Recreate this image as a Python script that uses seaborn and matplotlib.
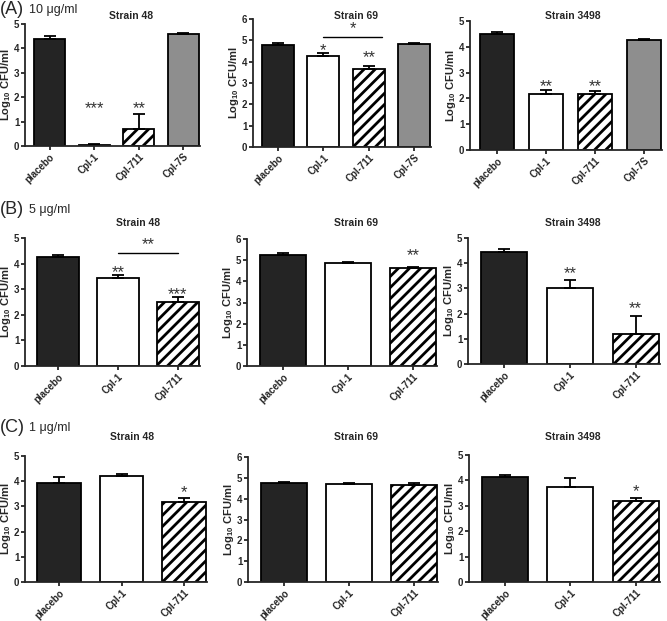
import numpy as np
import seaborn as sns
import matplotlib.pyplot as plt

# ---- data ----
groups4 = ["placebo", "Cpl-1", "Cpl-711", "Cpl-7S"]
groups3 = ["placebo", "Cpl-1", "Cpl-711"]

a48_mean = [4.40, 0.05, 0.70, 4.57]
a48_err = [0.10, 0.03, 0.63, 0.05]
a69_mean = [4.80, 4.28, 3.67, 4.82]
a69_err = [0.06, 0.13, 0.12, 0.05]
a3498_mean = [4.48, 2.18, 2.17, 4.25]
a3498_err = [0.10, 0.13, 0.13, 0.07]

b48_mean = [4.25, 3.45, 2.50]
b48_err = [0.10, 0.09, 0.20]
b69_mean = [5.25, 4.87, 4.62]
b69_err = [0.10, 0.06, 0.05]
b3498_mean = [4.43, 3.00, 1.20]
b3498_err = [0.12, 0.35, 0.70]

c48_mean = [3.93, 4.22, 3.16]
c48_err = [0.22, 0.08, 0.18]
c69_mean = [4.75, 4.72, 4.65]
c69_err = [0.05, 0.03, 0.10]
c3498_mean = [4.15, 3.75, 3.17]
c3498_err = [0.07, 0.35, 0.12]

row_labels = ["(A)", "(B)", "(C)"]
doses = ["10 μg/ml", "5 μg/ml", "1 μg/ml"]
strains = ["Strain 48", "Strain 69", "Strain 3498"]

# significance marks: (bar index, y, text)
stars = {
    "a48": [(1, 1.55, "***"), (2, 1.55, "**")],
    "a69": [(1, 4.5, "*"), (2, 4.2, "**")],
    "a3498": [(1, 2.45, "**"), (2, 2.45, "**")],
    "b48": [(1, 3.65, "**"), (2, 2.8, "***")],
    "b69": [(2, 5.2, "**")],
    "b3498": [(1, 3.6, "**"), (2, 2.2, "**")],
    "c48": [(2, 3.55, "*")],
    "c69": [],
    "c3498": [(2, 3.55, "*")],
}
# comparison brackets: (from bar, to bar, y, text)
brackets = {
    "a69": [(1, 2.3, 5.15, "*")],
    "b48": [(1, 2.0, 4.4, "**")],
}

panels = [
    ["a48", groups4, a48_mean, a48_err, 5],
    ["a69", groups4, a69_mean, a69_err, 6],
    ["a3498", groups4, a3498_mean, a3498_err, 5],
    ["b48", groups3, b48_mean, b48_err, 5],
    ["b69", groups3, b69_mean, b69_err, 6],
    ["b3498", groups3, b3498_mean, b3498_err, 5],
    ["c48", groups3, c48_mean, c48_err, 5],
    ["c69", groups3, c69_mean, c69_err, 6],
    ["c3498", groups3, c3498_mean, c3498_err, 5],
]

colors = {"placebo": "#242424", "Cpl-1": "white", "Cpl-711": "white", "Cpl-7S": "#8e8e8e"}

sns.set_style("ticks")
plt.rcParams["font.family"] = ["Liberation Sans", "DejaVu Sans"]
plt.rcParams["mathtext.fontset"] = "custom"
plt.rcParams["mathtext.rm"] = "Liberation Sans"
plt.rcParams["mathtext.bf"] = "Liberation Sans:bold"
plt.rcParams["mathtext.default"] = "bf"
plt.rcParams["hatch.linewidth"] = 2.0

W, H = 667, 621
fig = plt.figure(figsize=(W / 100, H / 100), dpi=100)

# axes boxes in pixels: x0, x1, ytop, ybottom
boxes = [
    (25, 200, 24, 146), (253, 431, 19, 147), (470, 662, 21, 150),
    (25, 200, 238, 366), (247, 437, 239, 366), (468, 660, 238, 364),
    (25, 207, 456, 582), (248, 438, 457, 582), (469, 660, 455, 582),
]
title_y = [16, 223, 437]
title_x = [[131, 356, 573], [138, 356, 573], [132, 356, 573]]
label_y = [10, 210, 428]

lw = 1.3
for k, (key, groups, means, errs, ymax) in enumerate(panels):
    x0, x1, yt, yb = boxes[k]
    ax = fig.add_axes([x0 / W, 1 - yb / H, (x1 - x0) / W, (yb - yt) / H])
    sns.barplot(x=groups, y=means, hue=groups, palette=colors, legend=False,
                edgecolor="black", linewidth=lw, width=0.7, errorbar=None, ax=ax)
    for patch, g in zip(ax.patches, groups):
        if g == "Cpl-711":
            patch.set_hatch("///")
    pos = np.arange(len(groups))
    ax.errorbar(pos, means, yerr=[np.zeros(len(means)), errs], fmt="none",
                ecolor="black", elinewidth=lw, capsize=4, capthick=lw, zorder=1)
    for i, y, s in stars[key]:
        ax.text(i, y, s, ha="center", va="center", fontsize=12, color="#333333")
    for i, j, y, s in brackets.get(key, []):
        ax.plot([i, j], [y, y], color="black", lw=1.0)
        ax.text((i + j) / 2, y + 0.03, s, ha="center", va="bottom", fontsize=12, color="#333333")

    ax.set_ylim(0, ymax)
    ax.set_yticks(range(ymax + 1))
    ax.set_xlim(-0.55, len(groups) - 1 + 0.37)
    ax.set_ylabel("Log$_{10}$ CFU/ml", fontsize=8, fontweight="bold")
    ax.yaxis.set_label_coords(-12 / (x1 - x0), 0.5)
    ax.set_xlabel("")
    ax.tick_params(axis="both", length=3, width=lw, labelsize=7, pad=1)
    ax.set_xticks(pos)
    ax.set_xticklabels(groups, rotation=45, ha="right", rotation_mode="anchor",
                       fontweight="bold", fontsize=7)
    for t in ax.get_yticklabels():
        t.set_fontweight("bold")
    sns.despine(ax=ax)
    for sp in ["left", "bottom"]:
        ax.spines[sp].set_linewidth(lw)

    r, c = divmod(k, 3)
    fig.text(title_x[r][c] / W, 1 - title_y[r] / H, strains[c], ha="center", va="center",
             fontsize=7.5, fontweight="bold")

for r in range(3):
    fig.text(0.0, 1 - label_y[r] / H, row_labels[r], ha="left", va="center", fontsize=13)
    fig.text(29 / W, 1 - label_y[r] / H, doses[r], ha="left", va="center", fontsize=9)

fig.savefig("out.png", dpi=100)
